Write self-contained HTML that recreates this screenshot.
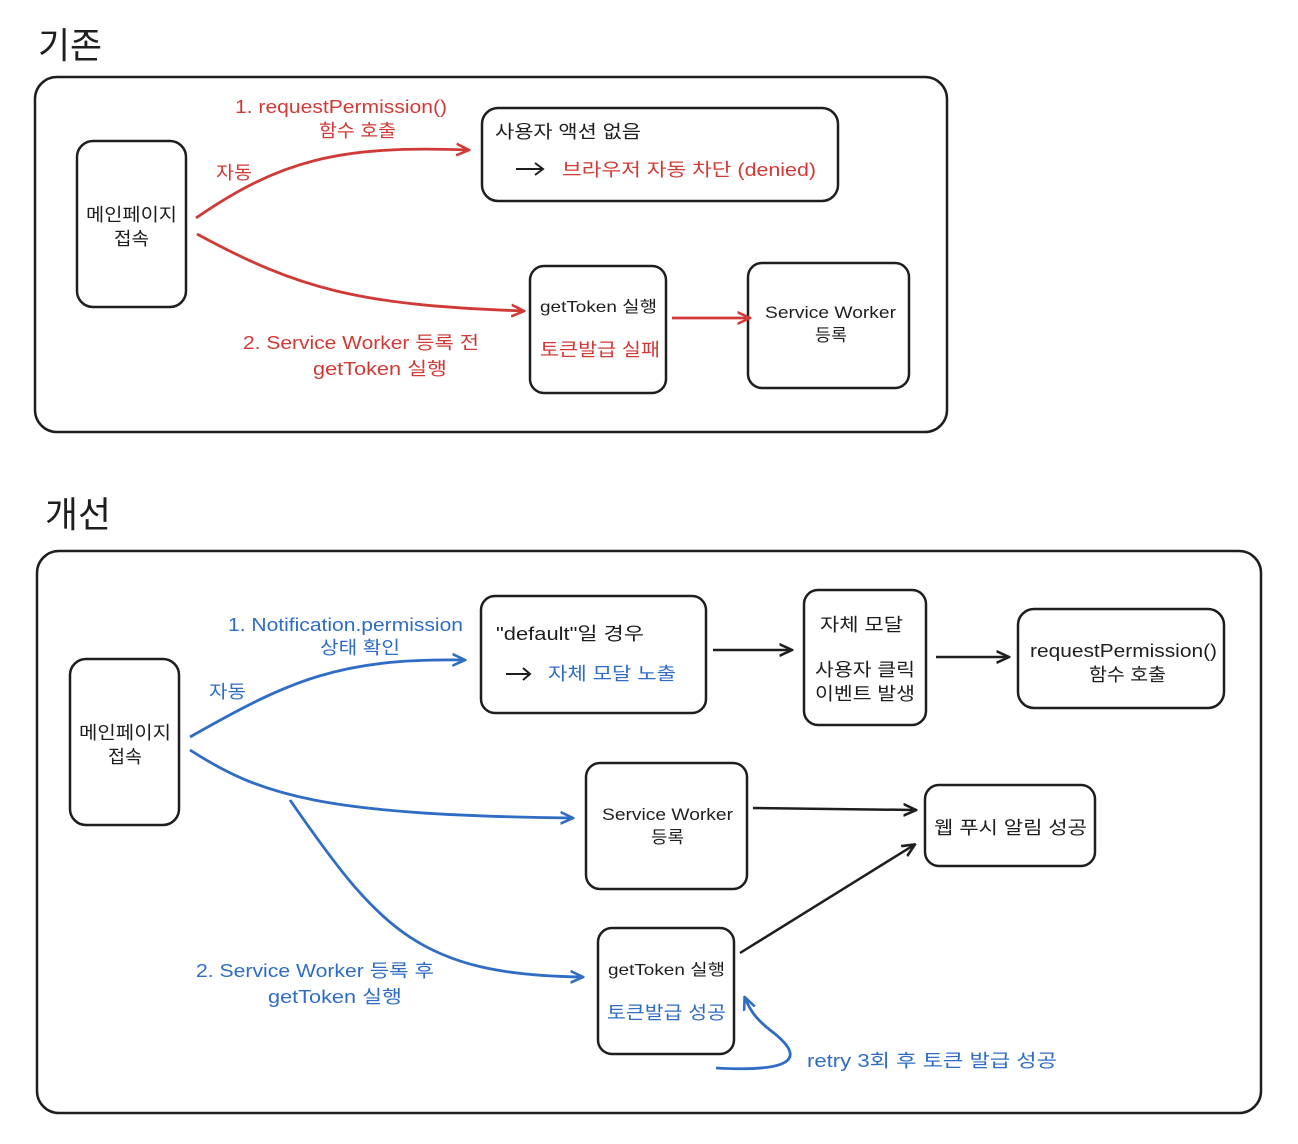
<!DOCTYPE html>
<html><head><meta charset="utf-8"><style>
html,body{margin:0;padding:0;background:#fff;}
svg{display:block;}
text{font-family:"Liberation Sans","Noto Sans CJK KR",sans-serif;font-size:18px;}
.r{fill:#d03a36;} .b{fill:#2f6cc4;} .k{fill:#1e1e1e;}
.box{fill:none;stroke:#1e1e1e;stroke-width:2.5;}
</style></head><body>
<svg width="1298" height="1144" viewBox="0 0 1298 1144" xmlns="http://www.w3.org/2000/svg">
<defs>
<marker id="ar" viewBox="0 0 12 12" refX="10" refY="6" markerWidth="14" markerHeight="14" markerUnits="userSpaceOnUse" orient="auto"><path d="M0,1 L11,6 L0,11" fill="none" stroke="#d03a36" stroke-width="2.2"/></marker>
<marker id="ab" viewBox="0 0 12 12" refX="10" refY="6" markerWidth="14" markerHeight="14" markerUnits="userSpaceOnUse" orient="auto"><path d="M0,1 L11,6 L0,11" fill="none" stroke="#2f6cc4" stroke-width="2.2"/></marker>
<marker id="ak" viewBox="0 0 12 12" refX="10" refY="6" markerWidth="14" markerHeight="14" markerUnits="userSpaceOnUse" orient="auto"><path d="M0,1 L11,6 L0,11" fill="none" stroke="#1e1e1e" stroke-width="2.2"/></marker>
</defs>

<text x="38" y="58" class="k" style="font-size:36px" textLength="64" lengthAdjust="spacingAndGlyphs">기존</text>
<rect x="35" y="77" width="912" height="355" rx="22" class="box"/>
<rect x="77" y="141" width="109" height="166" rx="16" class="box"/>
<text x="86" y="221" class="k" textLength="91" lengthAdjust="spacingAndGlyphs">메인페이지</text>
<text x="114" y="245" class="k" textLength="35" lengthAdjust="spacingAndGlyphs">접속</text>
<rect x="482" y="108" width="356" height="93" rx="16" class="box"/>
<text x="495" y="138" class="k" textLength="146" lengthAdjust="spacingAndGlyphs">사용자 액션 없음</text>
<path d="M516,169 L543,169 M535,163 L543,169 L535,175" stroke="#1e1e1e" stroke-width="2" fill="none"/>
<text x="562" y="176" class="r" textLength="254" lengthAdjust="spacingAndGlyphs">브라우저 자동 차단 (denied)</text>
<rect x="530" y="266" width="136" height="127" rx="14" class="box"/>
<text x="540" y="312" class="k" style="font-size:16px" textLength="117" lengthAdjust="spacingAndGlyphs">getToken 실행</text>
<text x="540" y="356" class="r" textLength="120" lengthAdjust="spacingAndGlyphs">토큰발급 실패</text>
<rect x="748" y="263" width="161" height="125" rx="14" class="box"/>
<text x="765" y="318" class="k" style="font-size:17px" textLength="131" lengthAdjust="spacingAndGlyphs">Service Worker</text>
<text x="815" y="341" class="k" style="font-size:17px" textLength="32" lengthAdjust="spacingAndGlyphs">등록</text>

<path d="M196,218 C280,160 340,145 468,150" fill="none" stroke="#d03a36" stroke-width="2.8" marker-end="url(#ar)"/>
<path d="M197,234 C300,290 360,305 523,311" fill="none" stroke="#d03a36" stroke-width="2.8" marker-end="url(#ar)"/>
<path d="M672,318 L749,318" fill="none" stroke="#d03a36" stroke-width="2.8" marker-end="url(#ar)"/>
<text x="235" y="113" class="r" textLength="212" lengthAdjust="spacingAndGlyphs">1. requestPermission()</text>
<text x="319" y="137" class="r" textLength="77" lengthAdjust="spacingAndGlyphs">함수 호출</text>
<text x="216" y="179" class="r" textLength="36" lengthAdjust="spacingAndGlyphs">자동</text>
<text x="243" y="349" class="r" textLength="236" lengthAdjust="spacingAndGlyphs">2. Service Worker 등록 전</text>
<text x="313" y="375" class="r" textLength="134" lengthAdjust="spacingAndGlyphs">getToken 실행</text>

<text x="45" y="527" class="k" style="font-size:36px" textLength="66" lengthAdjust="spacingAndGlyphs">개선</text>
<rect x="37" y="551" width="1224" height="562" rx="22" class="box"/>
<rect x="70" y="659" width="109" height="166" rx="16" class="box"/>
<text x="79" y="739" class="k" textLength="92" lengthAdjust="spacingAndGlyphs">메인페이지</text>
<text x="108" y="763" class="k" textLength="34" lengthAdjust="spacingAndGlyphs">접속</text>
<rect x="481" y="596" width="225" height="117" rx="14" class="box"/>
<text x="496" y="640" class="k" textLength="148" lengthAdjust="spacingAndGlyphs">"default"일 경우</text>
<path d="M506,674 L530,674 M523,668 L530,674 L523,680" stroke="#1e1e1e" stroke-width="2" fill="none"/>
<text x="548" y="680" class="b" textLength="128" lengthAdjust="spacingAndGlyphs">자체 모달 노출</text>
<rect x="804" y="590" width="122" height="135" rx="14" class="box"/>
<text x="820" y="631" class="k" textLength="83" lengthAdjust="spacingAndGlyphs">자체 모달</text>
<text x="815" y="676" class="k" textLength="100" lengthAdjust="spacingAndGlyphs">사용자 클릭</text>
<text x="815" y="700" class="k" textLength="100" lengthAdjust="spacingAndGlyphs">이벤트 발생</text>
<rect x="1018" y="609" width="206" height="99" rx="16" class="box"/>
<text x="1030" y="657" class="k" textLength="187" lengthAdjust="spacingAndGlyphs">requestPermission()</text>
<text x="1089" y="681" class="k" textLength="77" lengthAdjust="spacingAndGlyphs">함수 호출</text>
<rect x="586" y="763" width="161" height="126" rx="14" class="box"/>
<text x="602" y="820" class="k" style="font-size:17px" textLength="131" lengthAdjust="spacingAndGlyphs">Service Worker</text>
<text x="651" y="843" class="k" style="font-size:17px" textLength="33" lengthAdjust="spacingAndGlyphs">등록</text>
<rect x="925" y="785" width="170" height="81" rx="14" class="box"/>
<text x="934" y="834" class="k" textLength="153" lengthAdjust="spacingAndGlyphs">웹 푸시 알림 성공</text>
<rect x="598" y="928" width="136" height="126" rx="14" class="box"/>
<text x="608" y="975" class="k" style="font-size:16px" textLength="117" lengthAdjust="spacingAndGlyphs">getToken 실행</text>
<text x="607" y="1019" class="b" textLength="119" lengthAdjust="spacingAndGlyphs">토큰발급 성공</text>

<path d="M713,650 L791,650" stroke="#1e1e1e" stroke-width="2.5" fill="none" marker-end="url(#ak)"/>
<path d="M936,657 L1008,657" stroke="#1e1e1e" stroke-width="2.5" fill="none" marker-end="url(#ak)"/>
<path d="M753,808 L915,810" stroke="#1e1e1e" stroke-width="2.5" fill="none" marker-end="url(#ak)"/>
<path d="M740,953 L914,845" stroke="#1e1e1e" stroke-width="2.5" fill="none" marker-end="url(#ak)"/>

<path d="M190,737 C290,680 340,658 464,660" fill="none" stroke="#2f6cc4" stroke-width="2.8" marker-end="url(#ab)"/>
<path d="M190,750 C260,795 320,815 572,818" fill="none" stroke="#2f6cc4" stroke-width="2.8" marker-end="url(#ab)"/>
<path d="M290,800 C380,930 420,975 582,977" fill="none" stroke="#2f6cc4" stroke-width="2.8" marker-end="url(#ab)"/>
<path d="M716,1068 C790,1072 810,1060 770,1030 C755,1018 750,1010 745,998" fill="none" stroke="#2f6cc4" stroke-width="2.8" marker-end="url(#ab)"/>
<text x="228" y="631" class="b" textLength="235" lengthAdjust="spacingAndGlyphs">1. Notification.permission</text>
<text x="320" y="654" class="b" textLength="80" lengthAdjust="spacingAndGlyphs">상태 확인</text>
<text x="209" y="698" class="b" textLength="37" lengthAdjust="spacingAndGlyphs">자동</text>
<text x="196" y="977" class="b" textLength="238" lengthAdjust="spacingAndGlyphs">2. Service Worker 등록 후</text>
<text x="268" y="1003" class="b" textLength="134" lengthAdjust="spacingAndGlyphs">getToken 실행</text>
<text x="807" y="1067" class="b" textLength="250" lengthAdjust="spacingAndGlyphs">retry 3회 후 토큰 발급 성공</text>
</svg>
</body></html>
